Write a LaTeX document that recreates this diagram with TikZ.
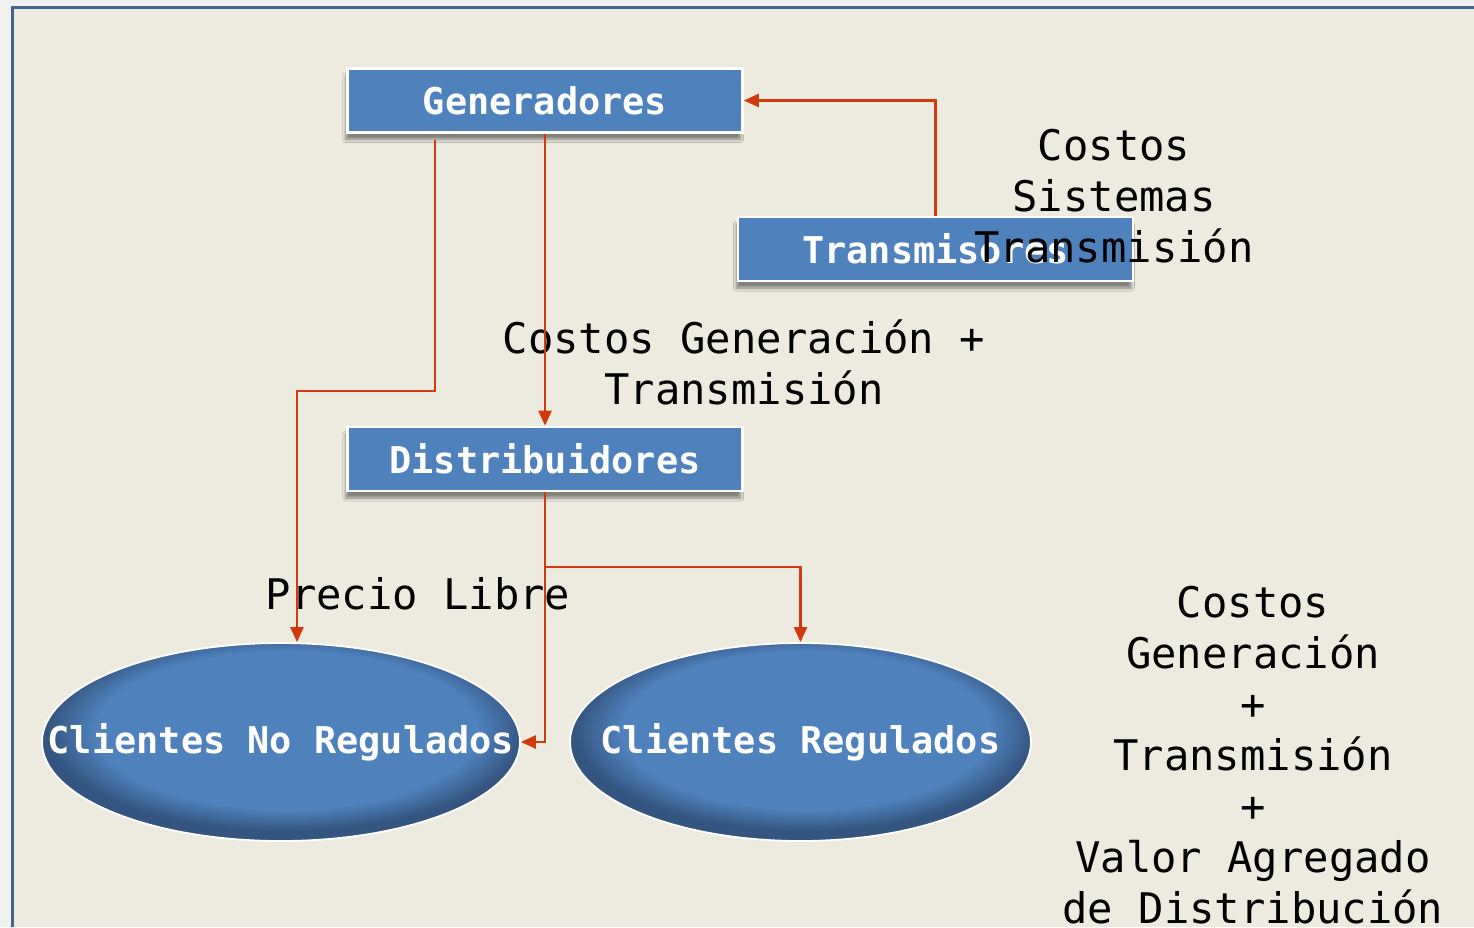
\documentclass[tikz,border=0pt]{standalone}
\usepackage{fontspec}
\newfontfamily\diagfont{DejaVu Sans Mono}
\usetikzlibrary{arrows.meta,shapes.geometric,shadows.blur}
\definecolor{boxblue}{HTML}{4F81BD}
\definecolor{rimblue}{HTML}{34557F}
\definecolor{flowred}{HTML}{D03A0C}
\definecolor{paper}{HTML}{EDEBE0}
\definecolor{frameblue}{HTML}{43648F}
\pgfdeclareradialshading{clientshade}{\pgfpoint{1bp}{5bp}}{color(0bp)=(boxblue); color(20bp)=(boxblue); color(25bp)=(rimblue); color(50bp)=(rimblue)}
\begin{document}
\begin{tikzpicture}[x=0.02cm,y=-0.02cm,
  box/.style={rectangle,fill=boxblue,draw=white,line width=1.5pt,
    minimum width=7.9cm,minimum height=1.28cm,text=white,
    font=\diagfont\bfseries\fontsize{21}{25}\selectfont,
    blur shadow={shadow xshift=-1pt,shadow yshift=-4pt,shadow blur steps=6,shadow opacity=45}},
  client/.style={ellipse,draw=white,line width=1pt,shade,shading=clientshade,
    minimum height=3.96cm,inner sep=0pt},
  cname/.style={text=white,font=\diagfont\bfseries\fontsize{21}{25}\selectfont},
  flow/.style={draw=flowred,line width=1.4pt,-{Triangle[length=0.3cm,width=0.26cm]}},
  note/.style={align=center,font=\diagfont\fontsize{24}{29}\selectfont}]
\useasboundingbox (0,0) rectangle (1474,927);
\fill[black!6] (0,0) rectangle (1474,927);
\fill[paper] (12,8) rectangle (1474,927);
\draw[frameblue,line width=1.6pt] (12.5,927) -- (12.5,7.5) -- (1474,7.5);
% actores
\node[box] (Gen) at (545,100.5) {Generadores};
\node[box] (Tra) at (935.5,249) {Transmisores};
\node[box] (Dis) at (545,459) {Distribuidores};
\node[client,minimum width=9.56cm,label={[cname]center:Clientes No Regulados}] (CNR) at (281,742) {};
\node[client,minimum width=9.22cm,label={[cname]center:Clientes Regulados}] (CR) at (800.5,742) {};
% costos
\node[note] (costT) at (1114,196) {Costos\\Sistemas\\Transmisión};
\node[note] (costGT) at (744,362) {Costos Generación +\\Transmisión};
\node[note] (precio) at (418,594) {Precio Libre};
\node[note] (costTotal) at (1253,755) {Costos\\Generación\\+\\Transmisión\\+\\Valor Agregado\\de Distribución};
% flujos
\coordinate (bendG) at (297,391);
\coordinate (split) at (545,567);
\draw[flow] (Tra.north) |- (Gen.east);
\draw[flow] (Gen.south) -- (Dis.north);
\draw[flow] ([xshift=-2.2cm,yshift=-0.12cm]Gen.south) |- (bendG) -- (bendG |- CNR.north);
\draw[flow] (Dis.south) |- (CNR.east);
\draw[flow] (split) -| (CR.north);
\end{tikzpicture}
\end{document}
